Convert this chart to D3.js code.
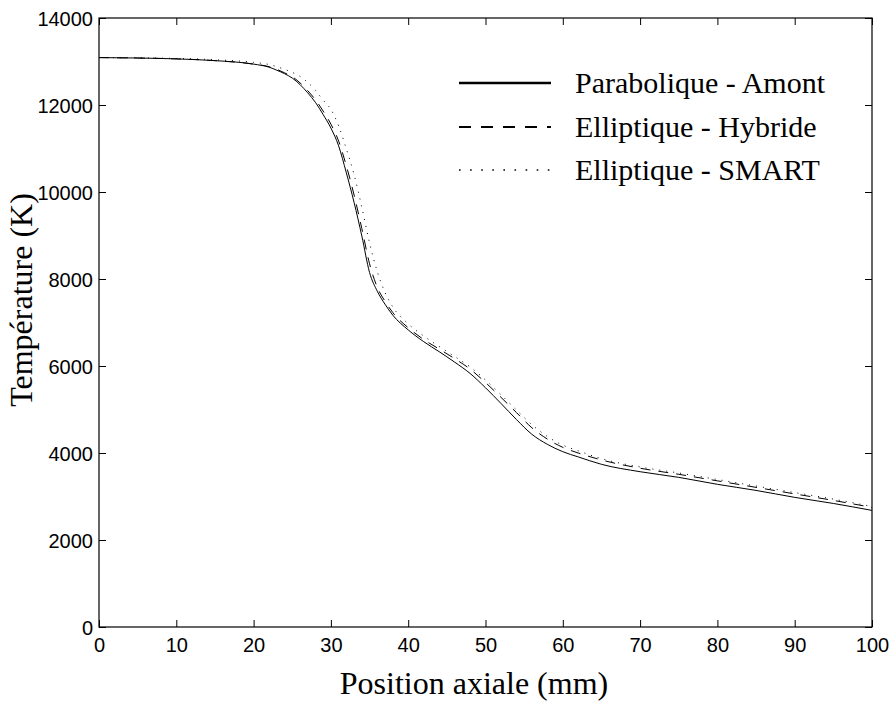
<!DOCTYPE html>
<html><head><meta charset="utf-8">
<script src="https://cdn.jsdelivr.net/npm/d3@7"></script>
<style>body{margin:0;background:#fff}svg{display:block}</style>
</head><body>
<svg id="c" width="891" height="704"></svg>
<script>
const positions = [0,5,10,15,20,22,23,24,25,26,27,28,29,30,31,32,33,34,35,36,37,38,40,42,44,46,48,50,52,54,56,58,60,62,65,70,75,80,85,90,95,100];
const paraboliqueAmont = [13090,13080,13060,13020,12940,12870,12800,12720,12620,12470,12280,12060,11780,11470,11060,10440,9760,8990,8150,7720,7420,7170,6830,6560,6330,6090,5830,5500,5140,4770,4430,4200,4030,3910,3740,3570,3440,3280,3140,2980,2840,2680];
const elliptiqueHybride = [13090,13080,13060,13020,12940,12880,12820,12740,12650,12510,12330,12120,11860,11560,11170,10600,9930,9160,8350,7810,7490,7230,6880,6610,6390,6170,5930,5620,5280,4930,4580,4320,4130,4000,3840,3650,3510,3360,3210,3060,2910,2750];
const elliptiqueSmart = [13090,13085,13070,13040,12980,12930,12880,12820,12750,12660,12520,12340,12110,11900,11520,10990,10400,9650,8830,8170,7690,7360,6970,6690,6450,6220,5980,5680,5340,4990,4650,4380,4180,4050,3870,3680,3540,3390,3240,3090,2940,2770];
const seriesNames = ["Parabolique - Amont","Elliptique - Hybride","Elliptique - SMART"];
const xTicks = [0,10,20,30,40,50,60,70,80,90,100];
const yTicks = [0,2000,4000,6000,8000,10000,12000,14000];

const svg = d3.select("#c");
const L=99, R=872, T=18, B=627;
const x = d3.scaleLinear().domain([0,100]).range([L,R]);
const y = d3.scaleLinear().domain([0,14000]).range([B,T]);
const tickFont = "'Liberation Sans', Arial, sans-serif";
const serif = "'Liberation Serif', 'Times New Roman', serif";

// axes with inward ticks
const gx = svg.append("g").attr("transform",`translate(0,${B})`)
  .call(d3.axisBottom(x).tickValues(xTicks).tickSize(-7).tickPadding(11).tickFormat(d3.format("d")));
const gy = svg.append("g").attr("transform",`translate(${L},0)`)
  .call(d3.axisLeft(y).tickValues(yTicks).tickSize(-7).tickPadding(6).tickFormat(d3.format("d")));
const gt = svg.append("g").attr("transform",`translate(0,${T})`)
  .call(d3.axisTop(x).tickValues(xTicks).tickSize(-7).tickFormat(""));
const gr = svg.append("g").attr("transform",`translate(${R},0)`)
  .call(d3.axisRight(y).tickValues(yTicks).tickSize(-7).tickFormat(""));
[gx,gy,gt,gr].forEach(g=>{
  g.select(".domain").remove();
  g.selectAll("line").attr("stroke","#000").attr("stroke-width",1);
  g.selectAll("text").attr("font-family",tickFont).attr("font-size",20).attr("fill","#000");
});
gy.selectAll("text").attr("dy","0.35em");
svg.append("rect").attr("x",L).attr("y",T).attr("width",R-L).attr("height",B-T)
  .attr("fill","none").attr("stroke","#000").attr("stroke-width",1.2);

const styles = [
  {dash:null, legDash:null, w:1, lw:2.6},
  {dash:"10,8", legDash:"12,10", w:1, lw:2.2},
  {dash:"1,6", legDash:"1.6,9.5", w:1, lw:1.6}
];
const dataSets = [paraboliqueAmont, elliptiqueHybride, elliptiqueSmart];
const line = d3.line().x(d=>x(d[0])).y(d=>y(d[1])).curve(d3.curveMonotoneX);
dataSets.forEach((vals,i)=>{
  svg.append("path").datum(positions.map((p,j)=>[p,vals[j]]))
    .attr("d",line).attr("fill","none").attr("stroke","#000")
    .attr("stroke-width",styles[i].w)
    .attr("stroke-dasharray",styles[i].dash);
});

// legend
const legY = [83,127,170];
seriesNames.forEach((n,i)=>{
  svg.append("line").attr("x1",459).attr("x2",551).attr("y1",legY[i]).attr("y2",legY[i])
    .attr("stroke","#000").attr("stroke-width",styles[i].lw).attr("stroke-dasharray",styles[i].legDash);
  svg.append("text").attr("x",575).attr("y",legY[i]+10).text(n)
    .attr("font-family",serif).attr("font-size",30).attr("fill","#000");
});

// axis titles
svg.append("text").attr("x",474).attr("y",694).attr("text-anchor","middle")
  .attr("font-family",serif).attr("font-size",32).text("Position axiale (mm)");
svg.append("text").attr("transform",`translate(32,300) rotate(-90)`).attr("text-anchor","middle")
  .attr("font-family",serif).attr("font-size",32).text("Température (K)");
</script>
</body></html>
